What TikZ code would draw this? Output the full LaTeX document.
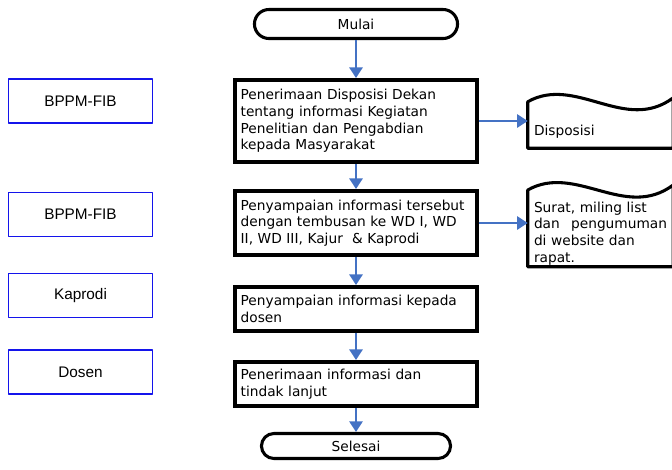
\documentclass[tikz,border=0pt]{standalone}
\usepackage{fontspec}
\setmainfont{DejaVu Sans}
\newfontfamily\lanefont{Liberation Sans}
\usetikzlibrary{arrows.meta,shapes.misc,positioning}
\definecolor{panahbiru}{RGB}{68,114,196}
\definecolor{garisbiru}{RGB}{20,20,235}

\begin{document}
\begin{tikzpicture}[x=0.75pt,y=-0.75pt,line join=round,
    >={Triangle[width=10pt,length=8pt]},
    proses/.style={draw,line width=3pt,line join=miter,text width=173pt,inner xsep=4pt,
        align=left,minimum height=#1,font=\fontsize{10.3}{12.5}\selectfont},
    terminal/.style={draw,rounded rectangle,line width=2.3pt,font=\fontsize{10.3}{12.5}\selectfont},
    pelaku/.style={draw=garisbiru,line width=0.8pt,minimum width=108pt,minimum height=33pt,
        font=\lanefont\fontsize{11.5}{13}\selectfont},
    dokumen/.style={text width=99.75pt,inner xsep=3pt,inner ysep=1pt,align=left,minimum width=108.75pt,
        minimum height=#1,font=\fontsize{10.3}{12.5}\selectfont},
    panah/.style={->,draw=panahbiru,line width=1.5pt}]
    \useasboundingbox (0,0) rectangle (672,469);
    % pelaksana
    \node[pelaku] (bppm1) at (80.5,101) {BPPM-FIB};
    \node[pelaku] (bppm2) at (80.5,214.5) {BPPM-FIB};
    \node[pelaku] (kaprodi) at (80.5,295.5) {Kaprodi};
    \node[pelaku] (dosen) at (80.5,372) {Dosen};
    % alur utama
    \node[terminal,minimum width=159pt,minimum height=21.75pt] (mulai) at (356,24) {Mulai};
    \node[proses=61.5pt] (terima) at (356,121) {Penerimaan Disposisi Dekan\\tentang informasi Kegiatan\\Penelitian dan Pengabdian\\kepada Masyarakat};
    \node[proses=48pt] (sampai) at (356,223) {Penyampaian informasi tersebut\\dengan tembusan ke WD I, WD\\II, WD III, Kajur\ \ \& Kaprodi};
    \node[proses=33pt] (dosenInfo) at (356,309) {Penyampaian informasi kepada\\dosen};
    \node[proses=33pt] (tindak) at (356,384) {Penerimaan informasi dan\\tindak lanjut};
    \node[terminal,minimum width=148.5pt,minimum height=18.75pt] (selesai) at (356,446) {Selesai};
    % dokumen
    \node[dokumen=24.75pt] (dok1) at (600.5,131.5) {Disposisi};
    \node[dokumen=48pt] (dok2) at (600.5,233.5) {Surat, miling list\\dan\hfill pengumuman\\di website dan\\rapat.};
    \draw[line width=2.3pt] (dok1.south west) -- ([yshift=9.75pt]dok1.north west) .. controls +(48,-27) and +(-48,36) .. ([yshift=12.75pt]dok1.north east) -- (dok1.south east) -- cycle;
    \draw[line width=2.3pt] (dok2.south west) -- ([yshift=7.7pt]dok2.north west) .. controls +(48,-27) and +(-48,36) .. ([yshift=11.5pt]dok2.north east) -- (dok2.south east) -- cycle;
    % panah
    \draw[panah] (mulai.south) -- (terima.north);
    \draw[panah] (terima.south) -- (sampai.north);
    \draw[panah] (sampai.south) -- (dosenInfo.north);
    \draw[panah] (dosenInfo.south) -- (tindak.north);
    \draw[panah] (tindak.south) -- (selesai.north);
    \draw[panah] (terima.east) -- (terima.east -| dok1.west);
    \draw[panah] (sampai.east) -- (sampai.east -| dok2.west);
\end{tikzpicture}
\end{document}
